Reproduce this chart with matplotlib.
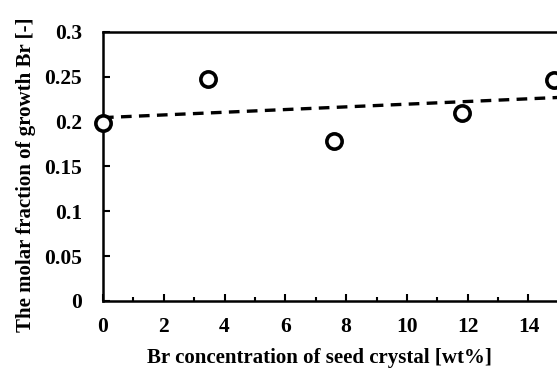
import matplotlib.pyplot as plt
from matplotlib.ticker import MultipleLocator

# measured points
seed_br = [0.0, 3.45, 7.6, 11.8, 14.85]
growth_br = [0.198, 0.248, 0.178, 0.21, 0.247]

# fitted trend line (end points)
trend_x = [0.0, 16.0]
trend_y = [0.2045, 0.2285]

x_ticks = [0, 2, 4, 6, 8, 10, 12, 14]
y_ticks = [0, 0.05, 0.1, 0.15, 0.2, 0.25, 0.3]
y_tick_labels = ["0", "0.05", "0.1", "0.15", "0.2", "0.25", "0.3"]

plt.rcParams["font.family"] = ["Liberation Serif", "DejaVu Serif"]

fig = plt.figure(figsize=(5.57, 3.72), dpi=100)
ax = fig.add_axes([0.1849, 0.1909, 0.873, 0.7231])

ax.plot(trend_x, trend_y, color="black", linestyle=(0, (3.2, 2.2)), linewidth=2.4)
ax.plot(seed_br, growth_br, linestyle="none", marker="o", markersize=11,
        markerfacecolor="white", markeredgecolor="black", markeredgewidth=2.6,
        clip_on=False, zorder=3)

ax.set_xlim(0, 16)
ax.set_ylim(0, 0.3)
ax.xaxis.set_minor_locator(MultipleLocator(1))
ax.set_yticks(y_ticks)
ax.set_yticklabels(y_tick_labels)
ax.set_xticks(x_ticks)
ax.set_xticklabels([str(v) for v in x_ticks])

ax.tick_params(axis="both", which="major", direction="in", length=5, width=1.5,
               labelsize=15.5)
ax.tick_params(axis="x", which="major", pad=11.5)
ax.tick_params(axis="y", which="major", pad=15)
ax.tick_params(axis="x", which="minor", direction="in", length=3, width=1.5)
for lbl in ax.get_xticklabels() + ax.get_yticklabels():
    lbl.set_fontweight("bold")

for side in ax.spines.values():
    side.set_linewidth(1.8)

ax.set_xlabel("Br concentration of seed crystal [wt%]", fontsize=15,
              fontweight="bold")
ax.set_ylabel("The molar fraction of growth Br [-]", fontsize=15,
              fontweight="bold")
ax.xaxis.set_label_coords(0.446, -0.175)
ax.yaxis.set_label_coords(-0.138, 0.468)

fig.savefig("out.png", dpi=100)
